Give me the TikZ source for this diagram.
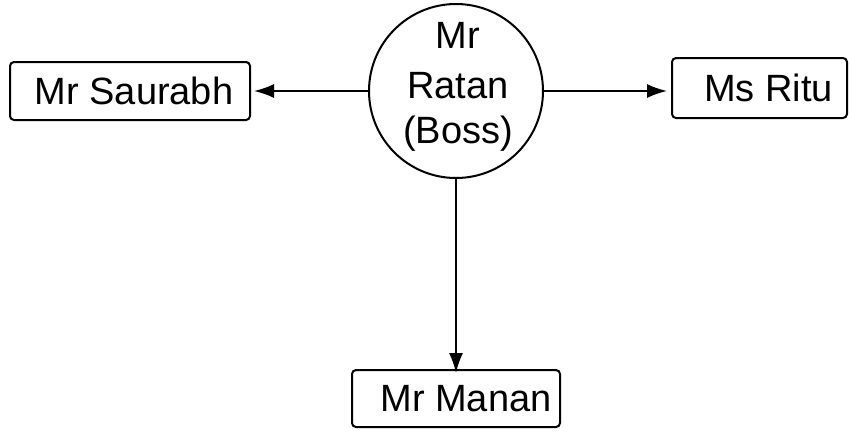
\documentclass[tikz,border=0pt]{standalone}
\usepackage{fontspec}
\setmainfont{Liberation Sans}
\usetikzlibrary{arrows.meta}
\begin{document}
\begin{tikzpicture}[x=1pt,y=-1pt,
  person/.style={draw, line width=2pt, rounded corners=4pt, inner sep=0pt,
    font=\fontsize{38}{40}\selectfont},
  label/.style={anchor=base, inner sep=0pt, font=\fontsize{38}{40}\selectfont},
  link/.style={line width=1.8pt, -{Latex[length=20pt,width=14pt]}}]
  \useasboundingbox (0,0) rectangle (849,432);

  % the boss in the middle
  \node[draw, circle, line width=2pt, minimum size=174pt, inner sep=0pt] (boss) at (456,91) {};
  \node[label] (bossA) at (458,48) {Mr};
  \node[label] (bossB) at (458,98) {Ratan};
  \node[label] (bossC) at (458,143) {(Boss)};

  % the three subordinates
  \node[person, minimum width=240pt, minimum height=58pt] (saurabh) at (130,91) {\hspace*{8pt}Mr Saurabh};
  \node[person, minimum width=175pt, minimum height=60pt] (ritu) at (759.5,88) {\hspace*{18pt}Ms Ritu};
  \node[person, minimum width=208pt, minimum height=57pt] (manan) at (456,398.5) {\hspace*{20pt}Mr Manan};

  % reporting lines
  \draw[link] (boss.west) -- ([xshift=3pt]saurabh.east |- boss.west);
  \draw[link] (boss.east) -- ([xshift=-4pt]boss.east -| ritu.west);
  \draw[link] (boss.south) -- ([yshift=-4pt]manan.north);
\end{tikzpicture}
\end{document}
